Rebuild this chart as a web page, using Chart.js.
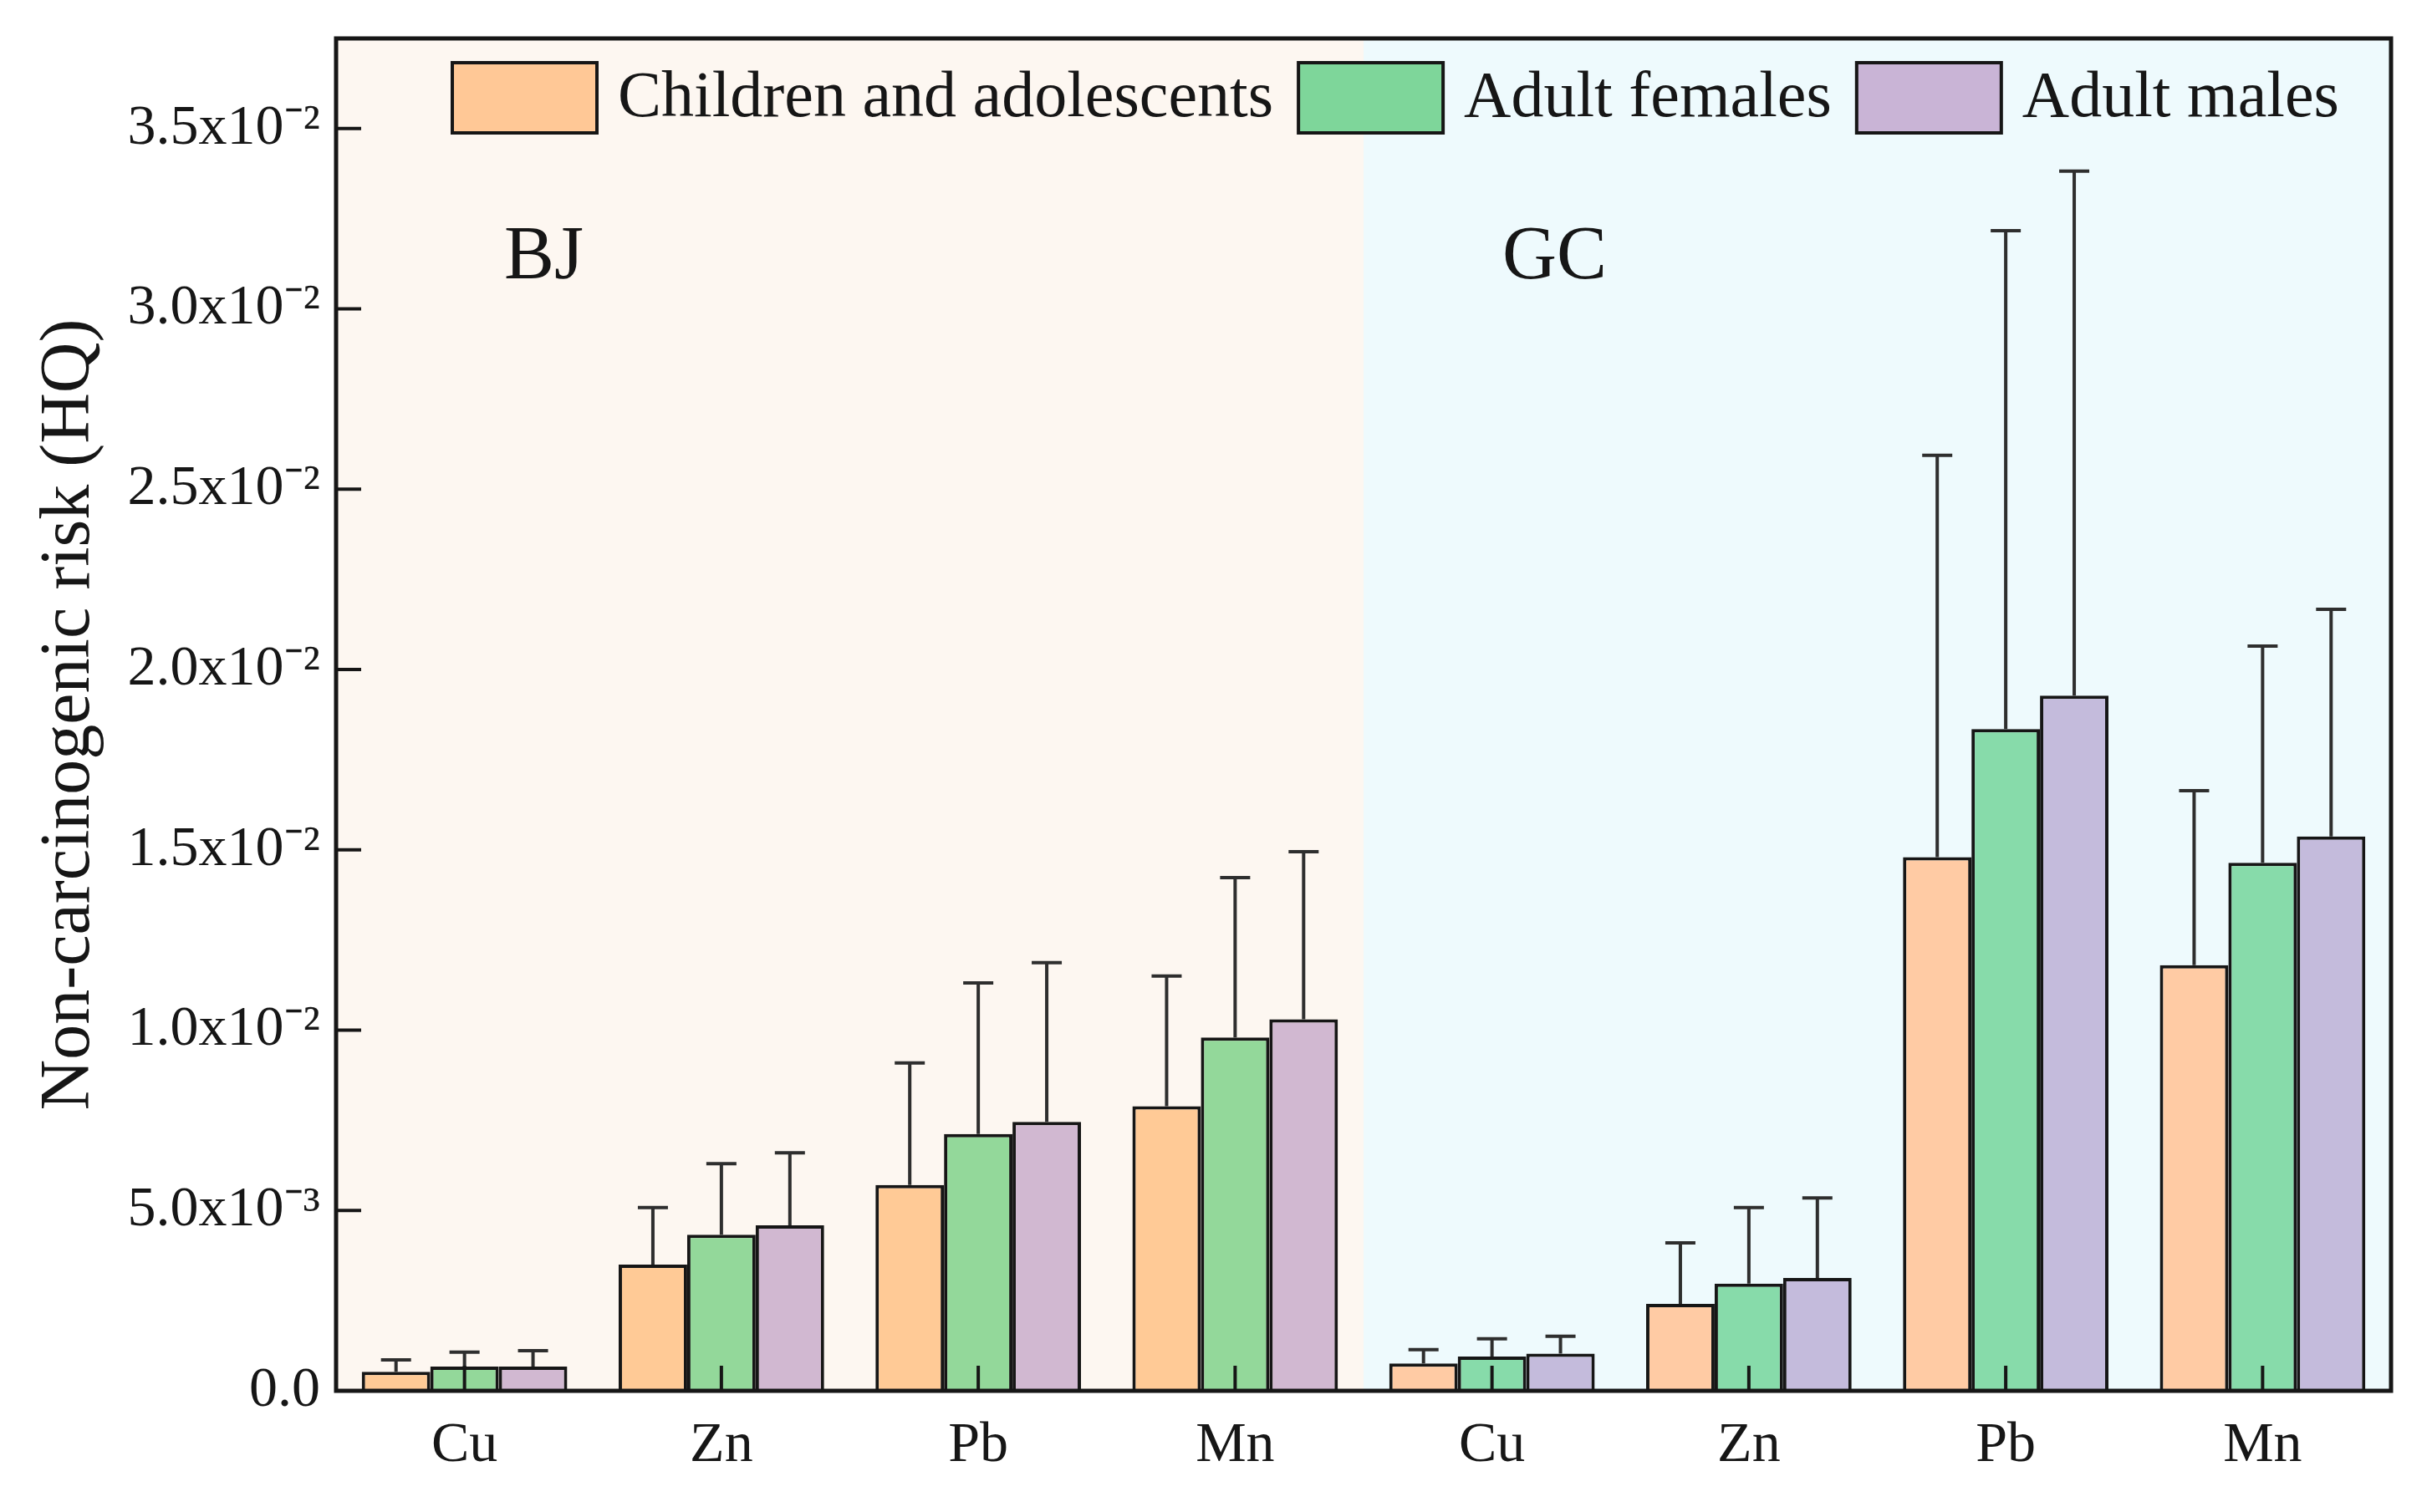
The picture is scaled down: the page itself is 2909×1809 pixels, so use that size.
<!DOCTYPE html>
<html>
<head>
<meta charset="utf-8">
<title>Non-carcinogenic risk (HQ)</title>
<script src="https://cdn.jsdelivr.net/npm/chart.js@4.4.1/dist/chart.umd.min.js"></script>
<style>
    html, body { margin: 0; padding: 0; background: #fff; }
    #wrap { width: 2909px; height: 1809px; }
</style>
</head>
<body>
<div id="wrap"><canvas id="risk-chart"></canvas></div>
<script>
// Four metals at each site: BJ (left half) then GC (right half)
const metals = ['Cu', 'Zn', 'Pb', 'Mn', 'Cu', 'Zn', 'Pb', 'Mn'];
const siteNames = ['BJ', 'GC'];
const groupNames = ['Children and adolescents', 'Adult females', 'Adult males'];

// Mean HQ per metal
const childrenHQ = [0.00053, 0.00350, 0.00571, 0.00789, 0.00076, 0.00241, 0.01480, 0.01180];
const femalesHQ  = [0.00067, 0.00433, 0.00712, 0.00980, 0.00095, 0.00297, 0.01835, 0.01464];
const malesHQ    = [0.00067, 0.00459, 0.00746, 0.01030, 0.00103, 0.00313, 0.01928, 0.01537];

// Upper error bar (SD)
const childrenSD = [0.00033, 0.00158, 0.00338, 0.00361, 0.00038, 0.00169, 0.01114, 0.00484];
const femalesSD  = [0.00040, 0.00197, 0.00419, 0.00443, 0.00049, 0.00211, 0.01382, 0.00601];
const malesSD    = [0.00044, 0.00201, 0.00441, 0.00465, 0.00048, 0.00222, 0.01454, 0.00630];

// Y axis ticks
const yTickValues = [0, 0.005, 0.010, 0.015, 0.020, 0.025, 0.030, 0.035];
const yTickLabels = ['0.0', '5.0x10\u207B\u00B3', '1.0x10\u207B\u00B2', '1.5x10\u207B\u00B2',
    '2.0x10\u207B\u00B2', '2.5x10\u207B\u00B2', '3.0x10\u207B\u00B2', '3.5x10\u207B\u00B2'];

// Colours: bars look slightly different over each site's background
const bjColors = ['#FFCA96', '#93D89A', '#D1B8D1'];
const gcColors = ['#FFCBA4', '#87DBAA', '#C4BBDC'];
const legendColors = ['#FFC896', '#7ED69A', '#C9B4D6'];
const siteBg = ['#FDF7F1', '#EEFAFD'];
const INK = '#161616';
const FONT = "'Liberation Serif', 'Times New Roman', serif";

const sdSets = [childrenSD, femalesSD, malesSD];

function colorsFor(g) {
    return metals.map((m, i) => (i < 4 ? bjColors[g] : gcColors[g]));
}

const decorPlugin = {
    id: 'riskDecor',
    beforeDatasetsDraw(chart) {
        const { ctx, chartArea: a, scales: { x, y } } = chart;
        const split = (x.getPixelForValue(3) + x.getPixelForValue(4)) / 2;
        ctx.save();
        ctx.fillStyle = siteBg[0];
        ctx.fillRect(a.left, a.top, split - a.left, a.height);
        ctx.fillStyle = siteBg[1];
        ctx.fillRect(split, a.top, a.right - split, a.height);

        // Site labels
        ctx.fillStyle = INK;
        ctx.font = `90px ${FONT}`;
        ctx.textAlign = 'left';
        ctx.textBaseline = 'alphabetic';
        ctx.fillText(siteNames[0], x.getPixelForValue(0.154), y.getPixelForValue(0.03085));
        ctx.fillText(siteNames[1], x.getPixelForValue(4.04), y.getPixelForValue(0.03085));
        ctx.restore();
    },
    afterDatasetsDraw(chart) {
        const { ctx, scales: { y } } = chart;
        ctx.save();
        ctx.strokeStyle = '#2e2e2e';
        ctx.lineWidth = 4;
        chart.data.datasets.forEach((ds, di) => {
            const meta = chart.getDatasetMeta(di);
            meta.data.forEach((bar, i) => {
                const top = y.getPixelForValue(ds.data[i] + sdSets[di][i]);
                ctx.beginPath();
                ctx.moveTo(bar.x, bar.y);
                ctx.lineTo(bar.x, top);
                ctx.moveTo(bar.x - 18, top);
                ctx.lineTo(bar.x + 18, top);
                ctx.stroke();
            });
        });
        ctx.restore();
    },
    afterDraw(chart) {
        const { ctx, chartArea: a, scales: { x, y } } = chart;
        ctx.save();
        ctx.strokeStyle = INK;
        ctx.lineWidth = 4;

        // Inward tick marks
        ctx.beginPath();
        for (const t of y.ticks) {
            const py = y.getPixelForValue(t.value);
            ctx.moveTo(a.left, py);
            ctx.lineTo(a.left + 30, py);
        }
        metals.forEach((m, i) => {
            const px = x.getPixelForValue(i);
            ctx.moveTo(px, a.bottom);
            ctx.lineTo(px, a.bottom - 30);
        });
        ctx.stroke();

        // Frame
        ctx.lineWidth = 5;
        ctx.strokeRect(a.left, a.top, a.right - a.left, a.bottom - a.top);

        // Legend inside the plot, one row
        ctx.font = `78px ${FONT}`;
        ctx.textAlign = 'left';
        ctx.textBaseline = 'middle';
        const boxW = 173, boxH = 84;
        let lx = a.left + 139;
        const ly = a.top + 29;
        chart.data.datasets.forEach((ds, di) => {
            ctx.fillStyle = legendColors[di];
            ctx.fillRect(lx, ly, boxW, boxH);
            ctx.lineWidth = 4;
            ctx.strokeStyle = INK;
            ctx.strokeRect(lx, ly, boxW, boxH);
            ctx.fillStyle = INK;
            ctx.fillText(ds.label, lx + boxW + 25, ly + boxH / 2 + 2);
            lx += boxW + 25 + ctx.measureText(ds.label).width + 30;
        });
        ctx.restore();
    }
};

const datasets = [childrenHQ, femalesHQ, malesHQ].map((vals, g) => ({
    label: groupNames[g],
    data: vals,
    backgroundColor: colorsFor(g),
    borderColor: INK,
    borderWidth: 4,
    borderSkipped: 'bottom',
    barPercentage: 1.0,
    categoryPercentage: 0.8,
}));

new Chart(document.getElementById('risk-chart'), {
    type: 'bar',
    data: { labels: metals, datasets: datasets },
    plugins: [decorPlugin],
    options: {
        responsive: true,
        maintainAspectRatio: false,
        animation: false,
        layout: { padding: { top: 46, right: 49, bottom: 0, left: 0 } },
        plugins: {
            legend: { display: false },
            tooltip: { enabled: false },
        },
        scales: {
            x: {
                grid: { display: false, drawTicks: false },
                border: { display: false },
                ticks: { color: INK, padding: 25, font: { family: FONT, size: 68 } },
                afterFit: (s) => {
                    s.height = 145;
                    s.paddingLeft = 0;
                    s.paddingRight = 0;
                },
            },
            y: {
                min: 0,
                max: 0.0375,
                grid: { display: false, drawTicks: false },
                border: { display: false },
                afterBuildTicks: (s) => { s.ticks = yTickValues.map(v => ({ value: v })); },
                ticks: {
                    color: INK,
                    padding: 19,
                    font: { family: FONT, size: 68 },
                    callback: (v, i) => yTickLabels[i],
                },
                title: {
                    display: true,
                    text: 'Non-carcinogenic risk (HQ)',
                    color: INK,
                    padding: { top: 34, bottom: 0 },
                    font: { family: FONT, size: 84, weight: 'normal' },
                },
                afterFit: (s) => {
                    s.width = 402;
                    s.paddingTop = 0;
                    s.paddingBottom = 0;
                },
            },
        },
    },
});
</script>
</body>
</html>
